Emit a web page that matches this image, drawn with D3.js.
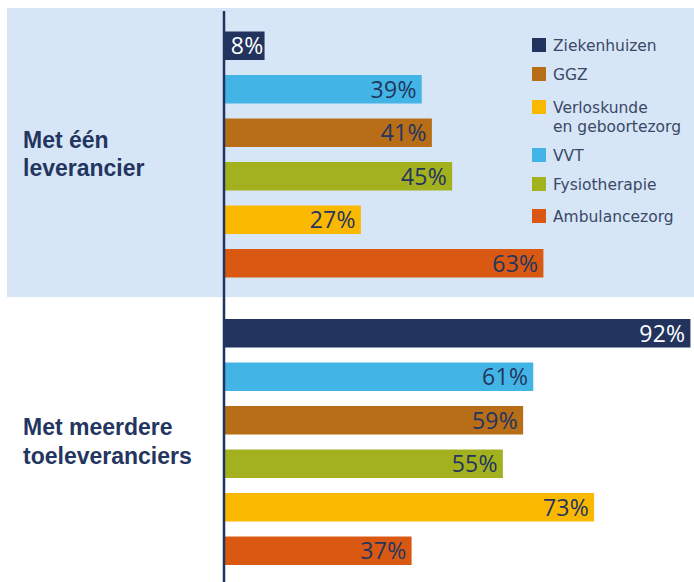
<!DOCTYPE html>
<html lang="nl">
<head>
  <meta charset="UTF-8">
  <title>Leveranciers per sector</title>
  <script src="https://d3js.org/d3.v7.min.js"></script>
  <style>
    body { margin: 0; background: #fff; }
    .grouplabel { font-family: "Liberation Sans", Arial, sans-serif; font-weight: bold; font-size: 23px; fill: #233560; }
    .value { font-family: "Open Sans", sans-serif; font-size: 23px; letter-spacing: 0.3px; }
    .legend text { font-family: "DejaVu Sans", sans-serif; font-size: 15.5px; fill: #3b4868; }
  </style>
</head>
<body>
  <script>
    // data
    const categories = ["Ziekenhuizen", "VVT", "GGZ", "Fysiotherapie", "Verloskunde en geboortezorg", "Ambulancezorg"];
    const groups = ["Met één leverancier", "Met meerdere toeleveranciers"];
    const groupLines = [["Met één", "leverancier"], ["Met meerdere", "toeleveranciers"]];
    const eenLeverancier = [8, 39, 41, 45, 27, 63];
    const meerdereLeveranciers = [92, 61, 59, 55, 73, 37];
    const legendOrder = ["Ziekenhuizen", "GGZ", "Verloskunde en geboortezorg", "VVT", "Fysiotherapie", "Ambulancezorg"];
    const legendLines = {
      "Verloskunde en geboortezorg": ["Verloskunde", "en geboortezorg"]
    };

    const colors = {
      "Ziekenhuizen": "#22345e",
      "VVT": "#42b5e6",
      "GGZ": "#b86d17",
      "Fysiotherapie": "#a3b11e",
      "Verloskunde en geboortezorg": "#fbb800",
      "Ambulancezorg": "#d95913"
    };

    const width = 694, height = 582;
    const svg = d3.select("body").append("svg")
      .attr("width", width)
      .attr("height", height);

    // achtergrond eerste groep
    svg.append("rect")
      .attr("x", 7).attr("y", 8)
      .attr("width", width - 7).attr("height", 289)
      .attr("fill", "#d6e6f6");

    const x = d3.scaleLinear().domain([0, 100]).range([224, 731]);
    const groupY = d3.scaleOrdinal().domain(groups).range([31.5, 319]);
    const y = d3.scaleBand().domain(categories).range([0, 246]).paddingInner(0.345);

    const series = [eenLeverancier, meerdereLeveranciers];

    groups.forEach((g, gi) => {
      const rows = categories.map((c, i) => ({ cat: c, value: series[gi][i] }));
      const gg = svg.append("g").attr("transform", `translate(0,${groupY(g)})`);

      gg.selectAll("rect")
        .data(rows)
        .enter().append("rect")
        .attr("x", x(0))
        .attr("y", d => y(d.cat))
        .attr("width", d => x(d.value) - x(0))
        .attr("height", y.bandwidth())
        .attr("fill", d => colors[d.cat]);

      gg.selectAll("text.value")
        .data(rows)
        .enter().append("text")
        .attr("class", "value")
        .attr("x", d => x(d.value) - (d.value < 10 ? 1 : 5))
        .attr("y", d => y(d.cat) + y.bandwidth() / 2)
        .attr("dy", "0.36em")
        .attr("text-anchor", "end")
        .attr("fill", d => d.cat === "Ziekenhuizen" ? "#fff" : "#233560")
        .text(d => d.value + "%");

      const lbl = svg.append("text")
        .attr("class", "grouplabel")
        .attr("x", 23)
        .attr("y", groupY(g) + 116);
      groupLines[gi].forEach((line, li) => {
        lbl.append("tspan")
          .attr("x", 23)
          .attr("dy", li === 0 ? 0 : 28.5)
          .text(line);
      });
    });

    // verticale as
    svg.append("line")
      .attr("x1", x(0)).attr("x2", x(0))
      .attr("y1", 11).attr("y2", height)
      .attr("stroke", "#22345e")
      .attr("stroke-width", 2.5);

    // legenda
    const legendY = [45, 74, 107, 155, 184, 216];
    const legend = svg.append("g").attr("class", "legend");
    legendOrder.forEach((c, i) => {
      const row = legend.append("g").attr("transform", `translate(532,${legendY[i]})`);
      row.append("rect")
        .attr("x", 0).attr("y", -7)
        .attr("width", 14).attr("height", 14)
        .attr("fill", colors[c]);
      const t = row.append("text").attr("x", 21).attr("y", 0);
      (legendLines[c] || [c]).forEach((line, li) => {
        t.append("tspan").attr("x", 21).attr("dy", li === 0 ? "0.36em" : 19).text(line);
      });
    });
  </script>
</body>
</html>
